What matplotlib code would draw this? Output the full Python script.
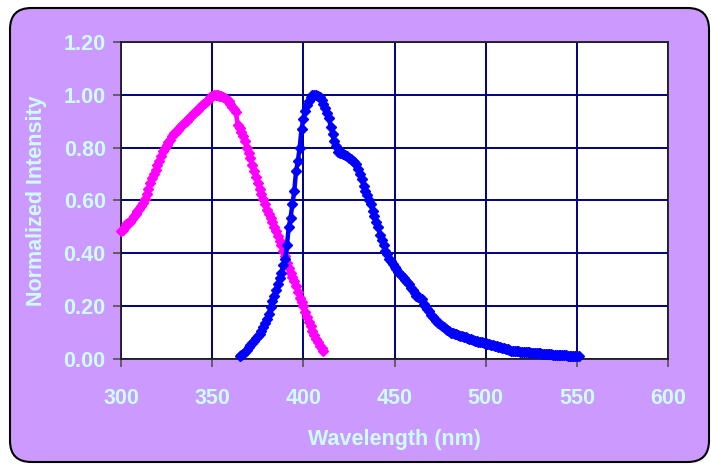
import matplotlib
matplotlib.use("Agg")
import matplotlib.pyplot as plt
from matplotlib.patches import FancyBboxPatch

# ---------------- data ----------------
excitation_nm = list(range(300, 412))
excitation = [
    0.485, 0.49, 0.50, 0.51, 0.515, 0.52, 0.53, 0.54, 0.55, 0.56,
    0.566, 0.58, 0.59, 0.604, 0.625, 0.645, 0.665, 0.685, 0.70, 0.715,
    0.735, 0.75, 0.77, 0.786, 0.80, 0.81, 0.82, 0.83, 0.845, 0.855,
    0.86, 0.868, 0.874, 0.882, 0.89, 0.897, 0.90, 0.907, 0.915, 0.922,
    0.93, 0.937, 0.943, 0.95, 0.957, 0.965, 0.97, 0.978, 0.985, 0.99,
    0.995, 1.0, 1.0, 1.0, 0.997, 0.995, 0.99, 0.987, 0.98, 0.975,
    0.965, 0.955, 0.945, 0.935, 0.885, 0.875, 0.86, 0.845, 0.825, 0.80,
    0.78, 0.76, 0.735, 0.71, 0.69, 0.665, 0.645, 0.625, 0.605, 0.585,
    0.565, 0.55, 0.535, 0.52, 0.50, 0.485, 0.465, 0.445, 0.43, 0.41,
    0.39, 0.365, 0.345, 0.325, 0.31, 0.295, 0.275, 0.255, 0.23, 0.215,
    0.20, 0.178, 0.16, 0.14, 0.125, 0.106, 0.09, 0.075, 0.065, 0.05,
    0.04, 0.03,
]

emission_nm = list(range(365, 552))
emission = [
    0.012, 0.015, 0.02, 0.027, 0.035, 0.044, 0.052, 0.06, 0.07, 0.078,
    0.086, 0.094, 0.107, 0.12, 0.135, 0.15, 0.17, 0.195, 0.22, 0.24,
    0.26, 0.285, 0.305, 0.325, 0.355, 0.38, 0.43, 0.50, 0.535, 0.585,
    0.635, 0.71, 0.75, 0.80, 0.87, 0.91, 0.94, 0.96, 0.975, 0.99,
    1.0, 1.0, 1.0, 0.995, 0.99, 0.98, 0.965, 0.95, 0.93, 0.912,
    0.88, 0.85, 0.825, 0.805, 0.785, 0.78, 0.778, 0.775, 0.772, 0.768,
    0.762, 0.756, 0.75, 0.745, 0.74, 0.72, 0.70, 0.68, 0.655, 0.635,
    0.62, 0.60, 0.585, 0.56, 0.54, 0.52, 0.50, 0.47, 0.45, 0.43,
    0.41, 0.396, 0.38, 0.37, 0.36, 0.35, 0.34, 0.33, 0.322, 0.315,
    0.307, 0.30, 0.293, 0.285, 0.27, 0.26, 0.25, 0.24, 0.235, 0.23,
    0.226, 0.21, 0.20, 0.19, 0.18, 0.165, 0.16, 0.153, 0.145, 0.138,
    0.132, 0.126, 0.12, 0.115, 0.11, 0.105, 0.10, 0.098, 0.095, 0.093,
    0.09, 0.088, 0.086, 0.084, 0.082, 0.08, 0.077, 0.075, 0.072, 0.07,
    0.068, 0.066, 0.064, 0.063, 0.062, 0.06, 0.058, 0.056, 0.054, 0.052,
    0.05, 0.048, 0.046, 0.044, 0.042, 0.04, 0.038, 0.036, 0.034, 0.032,
    0.031, 0.03, 0.03, 0.029, 0.028, 0.027, 0.027, 0.026, 0.025, 0.025,
    0.024, 0.024, 0.023, 0.022, 0.022, 0.021, 0.02, 0.02, 0.019, 0.019,
    0.018, 0.018, 0.017, 0.017, 0.016, 0.016, 0.015, 0.015, 0.014, 0.014,
    0.013, 0.013, 0.013, 0.012, 0.012, 0.012, 0.011,
]

x_ticks = [300, 350, 400, 450, 500, 550, 600]
y_ticks = [0.0, 0.2, 0.4, 0.6, 0.8, 1.0, 1.2]
x_label = "Wavelength (nm)"
y_label = "Normalized Intensity"

# ---------------- style ----------------
W, H = 711, 465
bg = "#CC99FF"
txt = "#CCFFFF"
grid_c = "#000080"
plt.rcParams["font.family"] = ["Liberation Sans", "DejaVu Sans"]

fig = plt.figure(figsize=(W / 100, H / 100), dpi=100)
fig.patch.set_facecolor("white")

frame = FancyBboxPatch((10 / W, 3 / H), (699 / W), (454 / H),
                       boxstyle="round,pad=0,rounding_size=0.03",
                       transform=fig.transFigure, facecolor=bg,
                       edgecolor="black", linewidth=1.5, zorder=-10,
                       mutation_aspect=W / H)
fig.patches.append(frame)

ax = fig.add_axes([121 / W, (H - 359) / H, (668 - 121) / W, (359 - 42) / H])
ax.set_zorder(5)
ax.set_facecolor("white")

ax.plot(excitation_nm, excitation, color="#FF00FF", lw=3.2, marker="D",
        ms=5.5, mec="#FF00FF", mfc="#FF00FF", zorder=3, clip_on=False)
ax.plot(emission_nm, emission, color="#0000FF", lw=3.2, marker="D",
        ms=5.5, mec="#0000FF", mfc="#0000FF", zorder=3, clip_on=False)

ax.set_xlim(300, 600)
ax.set_ylim(0, 1.2)
ax.set_xticks(x_ticks)
ax.set_yticks(y_ticks)
ax.set_xticklabels([str(v) for v in x_ticks])
ax.set_yticklabels([f"{v:.2f}" for v in y_ticks])
ax.grid(True, color=grid_c, lw=1.4)
ax.set_axisbelow(True)

for s in ax.spines.values():
    s.set_color("#202020")
    s.set_linewidth(1.3)

ax.tick_params(axis="both", direction="out", length=6, width=1.2,
               color="#505050", labelcolor=txt, labelsize=15.5)
ax.tick_params(axis="x", pad=15)
ax.tick_params(axis="y", pad=5)
for lab in ax.get_xticklabels() + ax.get_yticklabels():
    lab.set_fontweight("bold")

ax.set_xlabel(x_label, color=txt, fontsize=15.5, fontweight="bold", labelpad=14)
ax.set_ylabel(y_label, color=txt, fontsize=15.5, fontweight="bold", labelpad=12)

fig.savefig("out.png", dpi=100, facecolor=fig.get_facecolor())
